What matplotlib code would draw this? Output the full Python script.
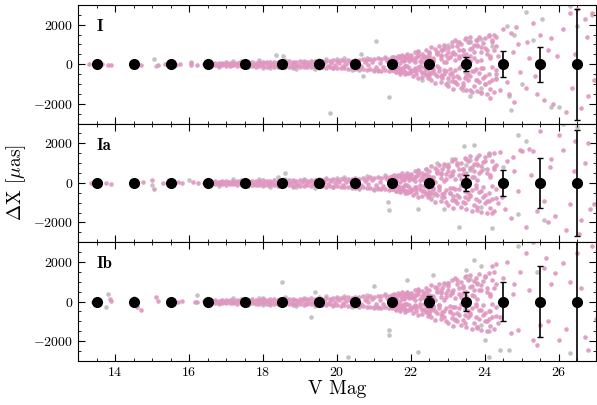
import matplotlib
matplotlib.use("Agg")
import matplotlib.pyplot as plt
from matplotlib.ticker import MultipleLocator

plt.rcParams["font.family"] = "serif"
plt.rcParams["font.serif"] = ["cmr10"]
plt.rcParams["mathtext.fontset"] = "cm"
plt.rcParams["axes.formatter.use_mathtext"] = True

# binned medians (black points) and their errors
bin_mag = [13.5, 14.5, 15.5, 16.5, 17.5, 18.5, 19.5, 20.5, 21.5, 22.5, 23.5, 24.5, 25.5, 26.5]
bin_dx = [0, 0, 0, 0, 0, 0, 0, 0, 0, 0, 0, 0, 0, 0]
err_I = [20, 20, 20, 20, 20, 30, 30, 40, 60, 100, 350, 660, 880, 2800]
err_Ia = [20, 20, 20, 20, 20, 30, 30, 40, 60, 120, 420, 660, 1280, 2670]
err_Ib = [20, 150, 20, 20, 20, 30, 30, 60, 120, 300, 500, 1000, 1800, 3500]

# dense core of the pink band (shared look in all panels)
core_mag = [16.6, 16.7, 16.8, 16.9, 17.0, 17.1, 17.2, 17.3, 17.4, 17.5,
            17.6, 17.7, 17.8, 17.9, 18.0, 18.1, 18.2, 18.3, 18.4, 18.5,
            18.6, 18.7, 18.8, 18.9, 19.0, 19.1, 19.2, 19.3, 19.4, 19.5,
            19.6, 19.7, 19.8, 19.9, 20.0, 20.1, 20.2, 20.3, 20.4, 20.5,
            20.6, 20.7, 20.8, 20.9, 21.0, 21.1, 21.2, 21.3, 21.4, 21.5,
            21.6, 21.7, 21.8, 21.9, 22.0]
core_dx_hi = [60, 80, 50, 70, 90, 60, 80, 70, 100, 60,
              90, 110, 80, 100, 120, 90, 110, 130, 100, 120,
              110, 140, 120, 100, 150, 130, 110, 160, 140, 120,
              150, 170, 140, 190, 160, 200, 170, 210, 180, 230,
              220, 260, 200, 280, 240, 300, 260, 320, 280, 350,
              330, 400, 360, 420, 380]
core_dx_lo = [-70, -50, -80, -60, -90, -70, -60, -100, -80, -90,
              -100, -90, -120, -110, -90, -130, -100, -120, -140, -110,
              -130, -120, -150, -110, -140, -160, -130, -150, -120, -170,
              -160, -190, -150, -200, -180, -210, -190, -230, -200, -240,
              -250, -230, -280, -260, -300, -270, -320, -290, -340, -310,
              -360, -400, -350, -430, -390]
core_mag2 = [16.65, 16.75, 16.85, 16.95, 17.05, 17.15, 17.25, 17.35, 17.45, 17.55,
             17.65, 17.75, 17.85, 17.95, 18.05, 18.15, 18.25, 18.35, 18.45, 18.55,
             18.65, 18.75, 18.85, 18.95, 19.05, 19.15, 19.25, 19.35, 19.45, 19.55,
             19.65, 19.75, 19.85, 19.95, 20.05, 20.15, 20.25, 20.35, 20.45, 20.55,
             20.65, 20.75, 20.85, 20.95, 21.05, 21.15, 21.25, 21.35, 21.45, 21.55,
             21.65, 21.75, 21.85, 21.95]
core_dx_mid = [10, -20, 30, -10, 20, -30, 0, 40, -20, 10,
               30, -40, 20, -10, 50, -30, 10, -50, 30, 0,
               40, -20, 60, -40, 20, -60, 30, -10, 70, -50,
               40, -70, 80, -30, 60, -90, 20, 100, -60, 50,
               -110, 90, -40, 130, -120, 60, -150, 170, -80, 140,
               -190, 200, -100, 160]

# the fan-out of the band between V~21.5 and 24.3 (shared)
cloud_mag = [21.5, 21.55, 21.6, 21.65, 21.7, 21.75, 21.8, 21.85, 21.9, 21.95,
             22.0, 22.05, 22.1, 22.15, 22.2, 22.25, 22.3, 22.35, 22.4, 22.45,
             22.5, 22.55, 22.6, 22.65, 22.7, 22.75, 22.8, 22.85, 22.9, 22.95,
             23.0, 23.05, 23.1, 23.15, 23.2, 23.25, 23.3, 23.35, 23.4, 23.45,
             23.5, 23.55, 23.6, 23.65, 23.7, 23.75, 23.8, 23.85, 23.9, 23.95,
             24.0, 24.05, 24.1, 24.15, 24.2, 24.25, 24.3]
cloud_dx_a = [250, 380, 150, 420, 300, 480, 200, 350, 500, 280,
              450, 200, 600, 350, 650, 150, 520, 400, 700, 300,
              600, 850, 300, 750, 500, 900, 250, 700, 950, 450,
              800, 350, 1100, 600, 1200, 900, 400, 1000, 700, 1250,
              500, 1100, 1350, 800, 300, 1200, 950, 1400, 600, 1050,
              1300, 700, 1450, 400, 1100, 1500, 900]
cloud_dx_b = [-300, -150, -420, -250, -480, -200, -380, -520, -100, -450,
              -350, -600, -200, -500, -700, -300, -650, -150, -550, -720,
              -450, -800, -250, -950, -600, -350, -900, -700, -500, -980,
              -1100, -500, -850, -1250, -300, -1000, -700, -1200, -950, -400,
              -1300, -800, -600, -1400, -1100, -250, -1350, -900, -1450, -700,
              -1000, -1500, -500, -1250, -800, -1400, -300]
cloud_dx_c = [100, -50, 200, -150, 50, -250, 150, -100, 300, -200,
              250, -300, 100, -350, 400, -100, 300, -400, 200, -250,
              350, -450, 150, -500, 550, -200, 450, -550, 100, -350,
              600, -250, 500, -650, 200, -600, 700, -100, 450, -700,
              300, -500, 750, -350, 600, -800, 150, -450, 850, -200,
              -600, 500, -900, 300, -150, 700, -750]

# grey points peeking out of the band
grey_core_mag = [16.8, 17.2, 17.6, 17.9, 18.2, 18.6, 18.9, 19.1, 19.4, 19.7, 19.9, 20.2, 20.4,
                 20.8, 21.0, 21.3, 21.6, 21.9, 17.4, 18.0, 18.8, 19.5, 20.0, 20.6, 21.1, 21.7,
                 22.2, 22.5, 22.9, 23.2, 23.6, 23.9, 22.4, 23.0, 23.8]
grey_core_dx = [-150, 170, -160, 200, -190, 220, -230, 180, -250, 260, -210, 300, -280,
                330, -350, 380, -400, 420, 150, -170, -200, 210, 240, -300, -320, -380,
                600, -650, 850, -900, 1150, -1200, -500, 950, 900]

# panel I
pink_I_mag = [13.3, 13.45, 13.65, 13.8, 13.9, 14.55, 14.7, 15.15, 15.35, 15.55, 15.65, 15.75, 16.05, 16.05, 16.2, 16.4,
              22.1, 22.1, 22.2, 22.2, 22.3, 22.3, 22.4, 22.4, 22.5, 22.5, 22.6, 22.6, 22.7, 22.7, 22.8, 22.8,
              22.9, 22.9, 23.0, 23.0, 23.1, 23.1, 23.2, 23.2, 23.3, 23.3, 23.4, 23.4, 23.5, 23.5, 23.6, 23.6,
              23.7, 23.7, 23.8, 23.8, 23.9, 23.9, 24.0, 24.0, 23.3, 23.6, 23.9, 22.95, 23.45,
              24.1, 24.15, 24.2, 24.3, 24.35, 24.4, 24.5, 24.6, 24.7, 24.75, 24.8, 24.9, 24.95, 24.3, 24.65, 24.85,
              25.1, 25.15, 25.3, 25.35, 25.5, 25.6, 25.7, 25.8, 25.85, 25.95, 25.2, 25.4,
              26.1, 26.2, 26.3, 26.35, 26.5, 26.6, 26.7, 26.8, 26.9, 26.95, 26.45, 26.75]
pink_I_dx = [0, -30, 20, -40, -60, -30, -60, -20, 0, 30, -40, 20, 50, -60, -20, 0,
             250, -300, 450, -150, 100, -450, 350, -250, 550, -500, 200, -350, 600, -100, 400, -600,
             750, -300, 300, -700, 900, -450, 500, -900, 1100, -200, 700, -1100, 1300, -600, 400, -1300,
             950, -350, 1200, -800, 200, -1400, 800, -1000, 300, 150, -200, 100, -50,
             1500, -1700, 1200, -500, 400, -1300, 1800, -900, 1600, 600, -1900, 1000, -400, 1350, -1500, 1900,
             -1200, 1100, 2100, -600, 1500, -1800, 700, 1300, -2000, 400, 300, -1500,
             1800, -2400, 2600, -1200, 2800, -2200, 2300, -1600, 2600, -800, 500, 1400]
grey_I_mag = [15.05, 15.1, 16.05, 18.35, 18.55,
              20.65, 20.7, 19.8, 21.05, 21.4, 22.3, 23.25, 23.6, 23.6, 23.9, 24.6, 24.8, 24.65, 24.7,
              25.1, 25.55, 25.8, 26.0, 26.3, 26.5, 26.9, 22.8, 23.0, 22.5, 21.8, 23.4, 24.2, 24.3, 25.0, 25.3]
grey_I_dx = [250, -80, 100, 450, 400,
             500, -600, -2450, 1180, -1650, -800, 1130, 1100, -1600, 1270, 1950, 1500, -1600, -2300,
             2650, 2280, -2150, -2150, 2950, 1950, 2500, 700, -900, 450, -350, -1300, 900, -700, -1000, 1200]

# panel Ia
pink_Ia_mag = [13.35, 13.6, 13.75, 13.9, 14.6, 14.75, 15.0, 15.05, 15.3, 15.5, 15.7, 15.8, 16.1, 16.25, 16.4,
               22.1, 22.15, 22.2, 22.3, 22.35, 22.4, 22.5, 22.55, 22.6, 22.7, 22.75, 22.8, 22.9, 22.95,
               23.0, 23.05, 23.1, 23.2, 23.25, 23.3, 23.4, 23.45, 23.5, 23.6, 23.65, 23.7, 23.8, 23.85,
               23.9, 24.0, 24.05, 23.35, 23.75, 22.65, 23.15,
               24.1, 24.2, 24.25, 24.4, 24.45, 24.55, 24.6, 24.7, 24.8, 24.9, 24.95, 24.35, 24.75,
               25.0, 25.1, 25.2, 25.3, 25.4, 25.5, 25.6, 25.7, 25.8, 25.9, 25.25, 25.75,
               26.0, 26.1, 26.2, 26.3, 26.45, 26.6, 26.7, 26.8, 26.85, 26.95, 26.4, 26.55]
pink_Ia_dx = [-20, 30, 0, -50, -40, 20, 150, -300, 0, -30, 40, -20, 30, -10, 0,
              300, -200, 500, -400, 150, 450, -550, 250, -300, 650, -150, 500, -700, 200,
              850, -500, 400, -850, 1000, -300, 700, -1000, 1200, -650, 300, 950, -1200, 500,
              -400, 1100, -900, 200, -100, 50, -250,
              1400, -1500, 800, 1570, -700, -1300, 1100, -1800, 600, -400, 1650, -1000, 1300,
              1600, -2230, 1700, 1600, -1400, 2600, -900, -2000, 1200, -1700, 400, 800,
              2400, 1650, -2400, -1050, 2100, -1900, 1000, 2000, -1300, -1050, 600, -2600]
grey_Ia_mag = [15.0, 16.0, 18.4, 18.6,
               23.43, 23.7, 23.5, 23.8, 23.95, 24.1, 23.6, 21.37, 21.4, 22.18, 23.3, 24.2, 24.9, 25.1,
               24.9, 26.1, 22.9, 22.4, 22.7, 21.9, 23.1, 24.5, 25.6, 26.5, 22.6]
grey_Ia_dx = [-100, 120, 300, 500,
              1860, 1900, 900, 1300, 700, 1500, 650, -960, -1390, -1300, -2230, -2300, 2400, 2100,
              -1550, 3000, -1300, 700, 1000, -500, 1200, 800, -1900, 2800, -600]

# panel Ib
pink_Ib_mag = [13.4, 13.85, 13.9, 14.55, 14.6, 14.7, 15.1, 15.15, 15.6, 15.7, 15.8, 16.15, 16.2, 16.4,
               22.1, 22.15, 22.2, 22.3, 22.35, 22.4, 22.5, 22.55, 22.6, 22.7, 22.75, 22.8, 22.9, 22.95,
               23.0, 23.05, 23.1, 23.2, 23.25, 23.3, 23.4, 23.45, 23.5, 23.6, 23.65, 23.7, 23.8, 23.85,
               23.9, 24.0, 24.05, 23.35, 23.75, 22.65, 23.15,
               24.2, 24.3, 24.4, 24.6, 24.5, 24.7, 24.8, 24.9, 24.95, 24.35, 24.75, 24.15,
               25.1, 25.3, 25.3, 25.9, 25.5, 25.6, 25.7, 25.8, 25.2, 25.4, 25.65,
               26.1, 26.0, 26.7, 26.8, 26.5, 27.0, 26.3, 26.2, 26.6, 26.9]
pink_Ib_dx = [-20, 150, 50, 100, -300, -450, 250, 50, -50, 0, 30, -30, 0, 20,
              350, -250, 550, -450, 200, 500, -600, 300, -350, 700, -200, 550, -800, 250,
              950, -550, 450, -950, 1100, -350, 800, -1100, 1300, -700, 350, 1050, -1300, 600,
              -450, 1250, -1000, 250, -150, 100, -300,
              1800, 1900, -800, 2000, 1200, -1600, 900, -1430, 1500, -1100, 400, -500,
              2450, 3000, -1950, 1430, -1200, 1700, -1000, 900, 600, -2200, 2200,
              1950, -1950, -1770, -2450, 2450, -900, 1000, -1400, 700, 2800]
grey_Ib_mag = [13.8, 13.75, 14.5, 16.2, 18.5, 18.0,
               19.4, 19.3, 20.3, 21.0, 21.4, 21.4, 22.2, 22.6, 21.9, 23.5, 23.7, 23.9, 23.8, 24.0,
               24.1, 24.4, 24.65, 24.9, 24.1, 22.8, 25.4, 26.3]
grey_Ib_dx = [400, -300, 200, 350, 980, 200,
              500, -760, -2800, 760, -1440, -1700, -2540, 1350, 1100, 1600, 2100, 1800, -1270, -1950,
              -1500, -2450, -2450, 2800, -2800, -700, 1500, -2600]

panels = [
    ("I", pink_I_mag, pink_I_dx, grey_I_mag, grey_I_dx, err_I),
    ("Ia", pink_Ia_mag, pink_Ia_dx, grey_Ia_mag, grey_Ia_dx, err_Ia),
    ("Ib", pink_Ib_mag, pink_Ib_dx, grey_Ib_mag, grey_Ib_dx, err_Ib),
]

pink = "#e096c0"
grey = "#b4b4b4"

fig, axes = plt.subplots(3, 1, figsize=(5.97, 4.05), dpi=100, sharex=True)
fig.subplots_adjust(left=0.131, right=0.998, top=0.988, bottom=0.109, hspace=0)

for ax, (label, pm, pd, gm, gd, err) in zip(axes, panels):
    ax.scatter(grey_core_mag + gm, grey_core_dx + gd, s=11, color=grey, alpha=0.8, lw=0, zorder=1)
    ax.scatter(core_mag + core_mag + core_mag2 + cloud_mag + cloud_mag + cloud_mag + pm,
               core_dx_hi + core_dx_lo + core_dx_mid + cloud_dx_a + cloud_dx_b + cloud_dx_c + pd,
               s=11, color=pink, alpha=0.9, lw=0, zorder=2)
    ax.errorbar(bin_mag, bin_dx, yerr=err, fmt="o", color="k", ms=7,
                elinewidth=1.2, capsize=2.5, capthick=1.0, zorder=3)
    ax.text(0.035, 0.88, label, transform=ax.transAxes, fontsize=12,
            fontfamily="cmb10", va="top", ha="left")
    ax.set_xlim(13, 27)
    ax.set_ylim(-3000, 3000)
    ax.set_yticks([-2000, 0, 2000])
    ax.yaxis.set_minor_locator(MultipleLocator(500))
    ax.xaxis.set_major_locator(MultipleLocator(2))
    ax.xaxis.set_minor_locator(MultipleLocator(0.5))
    ax.tick_params(which="both", direction="in", top=True, right=True, labelsize=10)
    ax.tick_params(which="major", length=5)
    ax.tick_params(which="minor", length=2.5)

axes[1].set_ylabel(r"$\Delta$X [$\mu$as]", fontsize=14)
axes[2].set_xlabel("V Mag", fontsize=14, labelpad=1)

fig.savefig("out.png", dpi=100)
